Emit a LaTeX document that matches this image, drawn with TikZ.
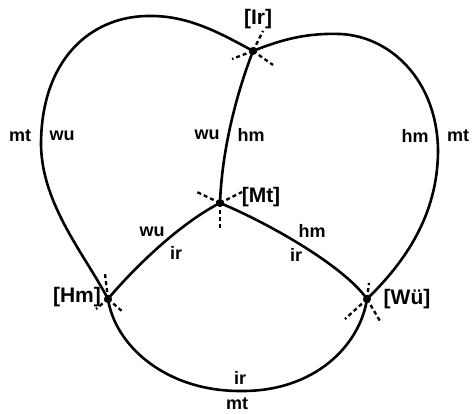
\documentclass[tikz,border=0pt]{standalone}
\usepackage{fontspec}
\setmainfont{Liberation Sans}
\usetikzlibrary{positioning}

\begin{document}
\begin{tikzpicture}[
  x=1pt, y=-1pt,
  edg/.style={line width=2.6pt},
  tg/.style={line width=2.3pt, dash pattern=on 4pt off 3pt},
  lb/.style={font=\fontsize{18}{20}\selectfont\bfseries, inner sep=0pt},
  vlb/.style={font=\fontsize{21}{23}\selectfont\bfseries, inner sep=0pt},
  dot/.style={circle, fill, inner sep=0pt, minimum size=8pt},
]
  \useasboundingbox (0,0) rectangle (473,414);

  % vertices
  \node[dot] (ir) at (253,51) {};
  \node[dot] (mt) at (220,203) {};
  \node[dot] (hm) at (108,299) {};
  \node[dot] (wu) at (367,299) {};

  \node[vlb] (irl) at (258,19)  {[Ir]};
  \node[vlb] (mtl) at (261,197) {[Mt]};
  \node[vlb] (hml) at (77,297)  {[Hm]};
  \node[vlb] (wul) at (407,299) {[Wü]};

  % edges
  \draw[edg] (ir.center) .. controls (236,95) and (222,150) .. (mt.center);
  \draw[edg] (mt.center) .. controls (175,226) and (127,276) .. (hm.center);
  \draw[edg] (mt.center) .. controls (266,222) and (343,265) .. (wu.center);
  \draw[edg] (hm.center) .. controls (115,345) and (165,391) .. (240,391)
                         .. controls (315,392) and (360,345) .. (wu.center);
  \draw[edg] (ir.center) .. controls (215,30) and (185,15) .. (147,16)
                         .. controls (90,17) and (41,60) .. (41,145)
                         .. controls (42,205) and (85,255) .. (hm.center);
  \draw[edg] (ir.center) .. controls (285,38) and (310,33) .. (340,34)
                         .. controls (390,36) and (437,80) .. (438,150)
                         .. controls (438,215) and (405,262) .. (wu.center);

  % tangents
  \draw[tg] (ir.center) -- ++(10,-20);
  \draw[tg] (ir.center) -- ++(-21,8);
  \draw[tg] (ir.center) -- ++(20,14);
  \draw[tg] (mt.center) -- ++(-23,-11);
  \draw[tg] (mt.center) -- ++(22,-11);
  \draw[tg] (mt.center) -- ++(0,25);
  \draw[tg] (hm.center) -- ++(-3,-25);
  \draw[tg] (hm.center) -- ++(15,13);
  \draw[tg] (hm.center) -- ++(-12,10);
  \draw[tg] (wu.center) -- ++(2,-16);
  \draw[tg] (wu.center) -- ++(-22,20);
  \draw[tg] (wu.center) -- ++(13,22);

  % edge labels
  \node[lb] (a1) at (20,136)  {mt};
  \node[lb] (a2) at (62,136)  {wu};
  \node[lb] (b1) at (207,135) {wu};
  \node[lb] (b2) at (251,135) {hm};
  \node[lb] (c1) at (415,136) {hm};
  \node[lb] (c2) at (458,136) {mt};
  \node[lb] (d1) at (152,232) {wu};
  \node[lb] (d2) at (176,253) {ir};
  \node[lb] (e1) at (312,231) {hm};
  \node[lb] (e2) at (296,255) {ir};
  \node[lb] (f1) at (240,378) {ir};
  \node[lb] (f2) at (237,404) {mt};
\end{tikzpicture}
\end{document}
